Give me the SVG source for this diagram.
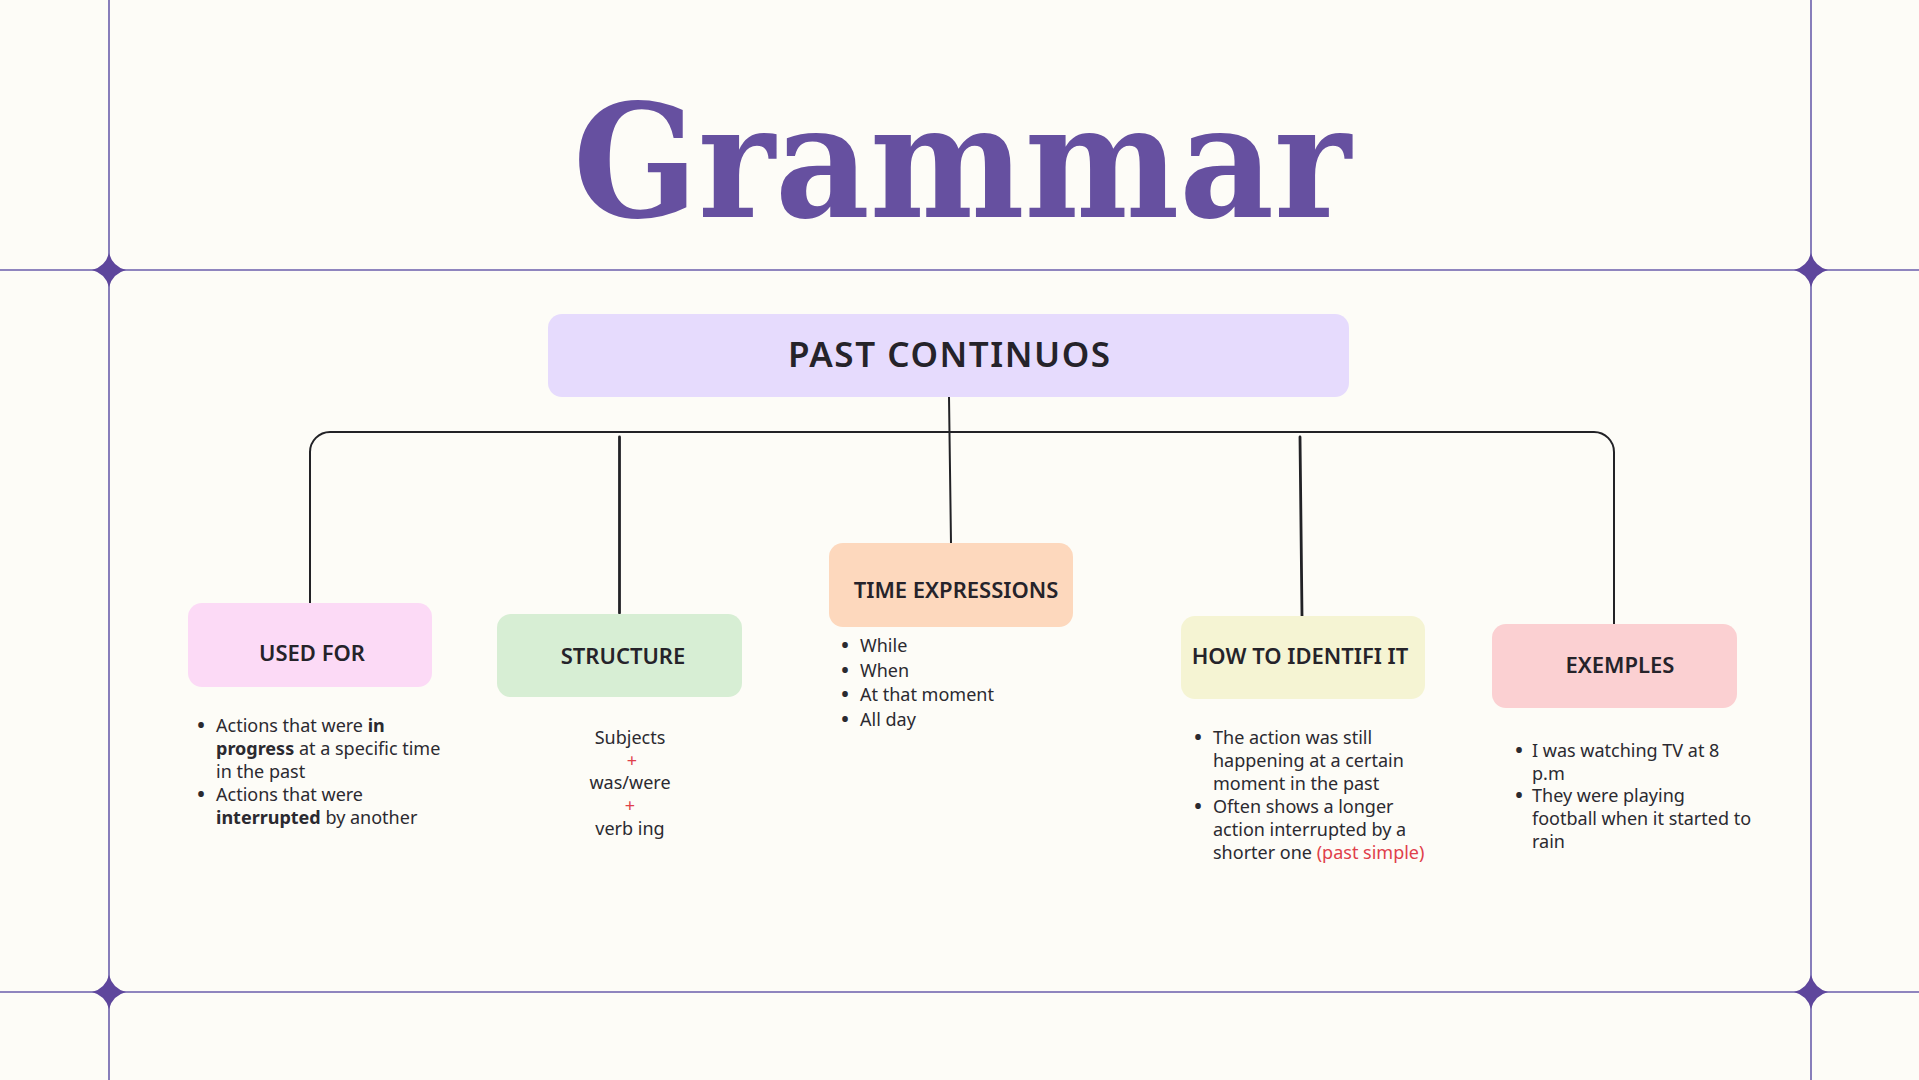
<svg xmlns="http://www.w3.org/2000/svg" width="1919" height="1080" viewBox="0 0 1919 1080">
<defs>
<style>
.frame{stroke:#6a5eab;stroke-width:1.6;fill:none}
.star{fill:#5e469c}
.conn{stroke:#222226;fill:none;stroke-linecap:round}
.thin{stroke-width:2}
.thick{stroke-width:2.8}
.box{rx:14;ry:14}
.head{font-family:"Noto Sans","Open Sans",sans-serif;font-weight:600;fill:#25232a;text-anchor:middle}
.body{font-family:"Noto Sans","Open Sans",sans-serif;font-size:18px;fill:#2b2a30}
.bul{font-family:"Noto Sans","Open Sans",sans-serif;font-size:20px;font-weight:700;fill:#2b2a30;text-anchor:middle}
.b{font-weight:700}
.red{fill:#e0404a}
.mid{text-anchor:middle}
</style>
<path id="star" d="M0,-17 Q3.5,-3.5 17,0 Q3.5,3.5 0,17 Q-3.5,3.5 -17,0 Q-3.5,-3.5 0,-17Z"/>
</defs>
<rect width="1919" height="1080" fill="#fdfcf7"/>
<g id="frame">
<line class="frame" x1="109" y1="0" x2="109" y2="1080"/>
<line class="frame" x1="1811" y1="0" x2="1811" y2="1080"/>
<line class="frame" x1="0" y1="270" x2="1919" y2="270"/>
<line class="frame" x1="0" y1="992" x2="1919" y2="992"/>
<use href="#star" class="star" x="109" y="270"/>
<use href="#star" class="star" x="1811" y="270"/>
<use href="#star" class="star" x="109" y="992"/>
<use href="#star" class="star" x="1811" y="992"/>
</g>
<g id="title">
<text x="573" y="217" font-family="'DejaVu Serif','Liberation Serif',serif" font-weight="700" font-size="158" fill="#6650a0" textLength="778" lengthAdjust="spacingAndGlyphs">Grammar</text>
</g>
<g id="connectors">
<path class="conn thin" d="M310,603 V452 A20,20 0 0 1 330,432 H1594 A20,20 0 0 1 1614,452 V624"/>
<path class="conn thin" d="M949,397 L951,543"/>
<path class="conn thick" d="M619.5,437 V613"/>
<path class="conn thick" d="M1300,437 L1302,616"/>
</g>
<g id="node-past-continuos">
<rect class="box" x="548" y="314" width="801" height="83" fill="#e6dbfd"/>
<text class="head" x="949" y="367" font-size="35" textLength="322" lengthAdjust="spacing">PAST CONTINUOS</text>
</g>
<g id="node-used-for">
<rect class="box" x="188" y="603" width="244" height="84" fill="#fcdaf6"/>
<text class="head" x="312" y="661" font-size="22">USED FOR</text>
<text class="bul"><tspan x="201" y="732">•</tspan><tspan x="201" y="801">•</tspan></text>
<text class="body"><tspan x="216" y="732">Actions that were <tspan class="b">in</tspan></tspan><tspan x="216" y="755"><tspan class="b">progress</tspan> at a specific time</tspan><tspan x="216" y="778">in the past</tspan><tspan x="216" y="801">Actions that were</tspan><tspan x="216" y="824"><tspan class="b">interrupted</tspan> by another</tspan></text>
</g>
<g id="node-structure">
<rect class="box" x="497" y="614" width="245" height="83" fill="#d7eed4"/>
<text class="head" x="623" y="664" font-size="22">STRUCTURE</text>
<text class="body mid"><tspan x="630" y="744">Subjects</tspan><tspan class="red" x="632" y="767">+</tspan><tspan x="630" y="789">was/were</tspan><tspan class="red" x="630" y="812">+</tspan><tspan x="630" y="835">verb ing</tspan></text>
</g>
<g id="node-time-expressions">
<rect class="box" x="829" y="543" width="244" height="84" fill="#fdd8bd"/>
<text class="head" x="956" y="598" font-size="22">TIME EXPRESSIONS</text>
<text class="bul"><tspan x="845" y="652">•</tspan><tspan x="845" y="676.5">•</tspan><tspan x="845" y="701">•</tspan><tspan x="845" y="725.5">•</tspan></text>
<text class="body"><tspan x="860" y="652">While</tspan><tspan x="860" y="676.5">When</tspan><tspan x="860" y="701">At that moment</tspan><tspan x="860" y="725.5">All day</tspan></text>
</g>
<g id="node-how-to-identifi-it">
<rect class="box" x="1181" y="616" width="244" height="83" fill="#f5f4d3"/>
<text class="head" x="1300" y="664" font-size="22">HOW TO IDENTIFI IT</text>
<text class="bul"><tspan x="1198" y="744">•</tspan><tspan x="1198" y="813">•</tspan></text>
<text class="body"><tspan x="1213" y="744">The action was still</tspan><tspan x="1213" y="767">happening at a certain</tspan><tspan x="1213" y="790">moment in the past</tspan><tspan x="1213" y="813">Often shows a longer</tspan><tspan x="1213" y="836">action interrupted by a</tspan><tspan x="1213" y="859">shorter one <tspan class="red">(past simple)</tspan></tspan></text>
</g>
<g id="node-exemples">
<rect class="box" x="1492" y="624" width="245" height="84" fill="#fbd0d2"/>
<text class="head" x="1620" y="673" font-size="22">EXEMPLES</text>
<text class="bul"><tspan x="1519" y="757">•</tspan><tspan x="1519" y="802">•</tspan></text>
<text class="body"><tspan x="1532" y="757">I was watching TV at 8</tspan><tspan x="1532" y="780">p.m</tspan><tspan x="1532" y="802">They were playing</tspan><tspan x="1532" y="825">football when it started to</tspan><tspan x="1532" y="848">rain</tspan></text>
</g>
</svg>
